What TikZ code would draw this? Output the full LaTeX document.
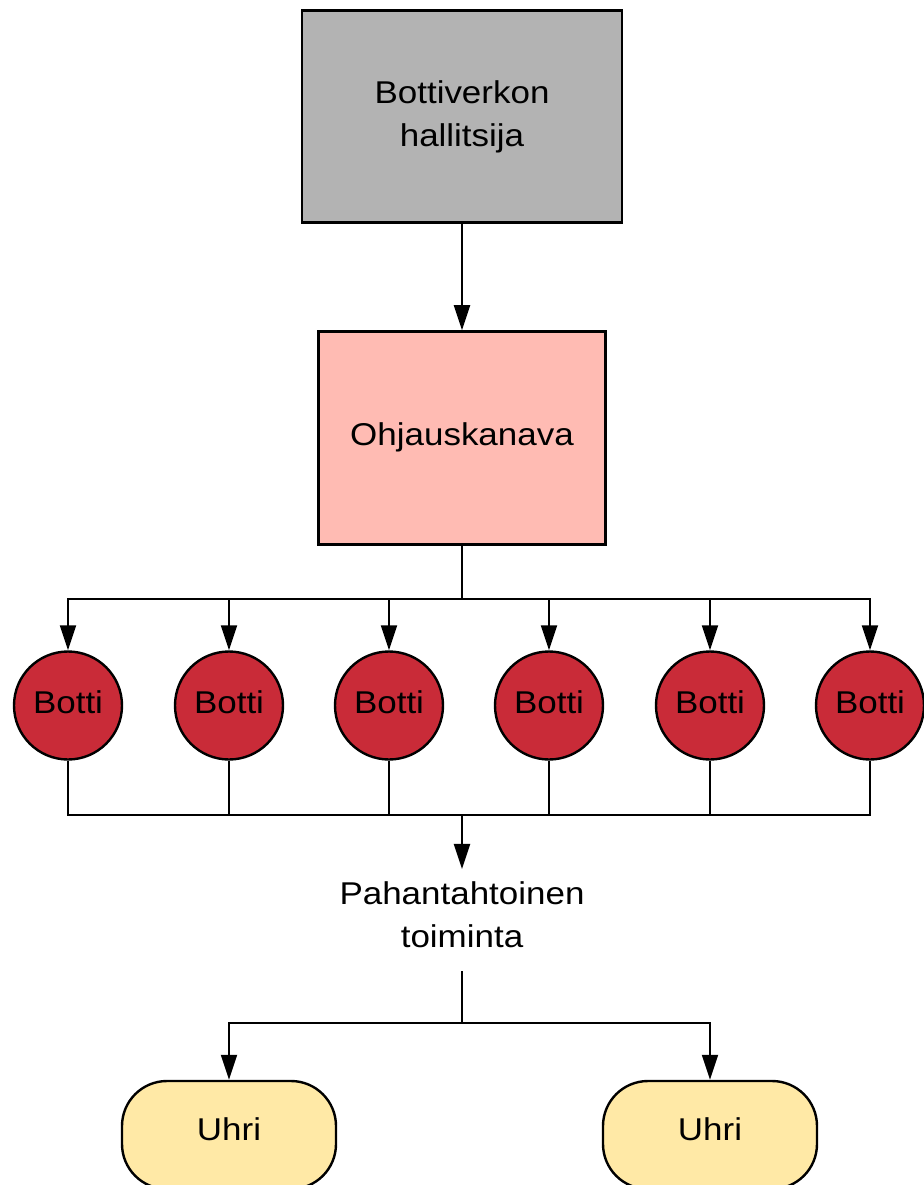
\documentclass[tikz,border=0pt]{standalone}
\usepackage{fontspec}
\setmainfont{Liberation Sans}[FakeStretch=1.11]
\usetikzlibrary{arrows.meta}
\definecolor{cgray}{HTML}{B3B3B3}
\definecolor{cpink}{HTML}{FFBBB3}
\definecolor{cred}{HTML}{C92B38}
\definecolor{cyel}{HTML}{FFE9A6}
\begin{document}
\begin{tikzpicture}[x=1pt,y=-1pt, line width=2.1pt,
  every node/.style={font=\fontsize{31.5}{43}\selectfont},
  arr/.style={-{Triangle[length=25pt,width=16pt]}},
  rectbox/.style={draw, line width=2.6pt, rectangle, inner sep=0pt},
  botti/.style={draw, line width=2.4pt, circle, fill=cred, minimum size=108pt, inner sep=0pt, text height=23pt, text depth=8pt},
  uhri/.style={draw, line width=2.4pt, rounded corners=45pt, fill=cyel, minimum width=214pt, minimum height=108pt, inner sep=0pt, text height=23pt, text depth=12pt},
]
\useasboundingbox (0,0) rectangle (923,1185);
\node[rectbox, fill=cgray, minimum width=320pt, minimum height=212pt, align=center] (ctrl) at (462,116.5) {Bottiverkon\\hallitsija};
\node[rectbox, fill=cpink, minimum width=287pt, minimum height=213pt, text height=23pt, text depth=8pt] (chan) at (462,438) {Ohjauskanava};
\draw[arr] (ctrl.south) -- (chan.north);

\coordinate (bus1) at (462,599);
\coordinate (bus2) at (462,815);
\coordinate (bus3) at (462,1023);

\foreach \i/\x in {1/68,2/229,3/389,4/549,5/710,6/870}{
  \node[botti] (b\i) at (\x,705.5) {Botti};
}
\draw (chan.south) -- (bus1);
\foreach \i in {1,...,6}{
  \draw[arr] (bus1) -| (b\i.north);
  \draw (b\i.south) |- (bus2);
}

\node[inner sep=0pt, minimum height=100pt, align=center] (act) at (462,920) {Pahantahtoinen\\toiminta\rule[-11pt]{0pt}{0pt}};
\draw[arr] (bus2) -- (act.north);
\draw (act.south) -- (bus3);

\node[uhri] (u1) at (229,1135) {Uhri};
\node[uhri] (u2) at (710,1135) {Uhri};
\draw[arr] (bus3) -| (u1.north);
\draw[arr] (bus3) -| (u2.north);
\end{tikzpicture}
\end{document}
